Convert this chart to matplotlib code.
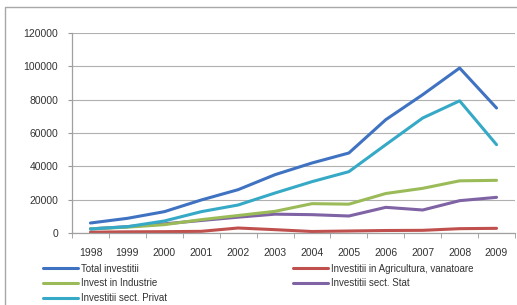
import matplotlib
matplotlib.use("Agg")
import matplotlib.pyplot as plt
from matplotlib.patches import Rectangle

years = ["1998", "1999", "2000", "2001", "2002", "2003",
         "2004", "2005", "2006", "2007", "2008", "2009"]
total = [6000, 8800, 12800, 19800, 26000, 35000, 42000, 48000, 68000, 83000, 99000, 75000]
agricultura = [500, 700, 800, 1000, 3000, 2000, 900, 1200, 1500, 1600, 2600, 2800]
industrie = [2500, 3500, 5000, 8000, 10500, 13000, 17600, 17300, 23700, 26800, 31300, 31600]
stat = [2500, 3800, 5500, 7500, 9500, 11300, 11000, 10200, 15400, 13800, 19400, 21400]
privat = [2400, 3800, 7200, 12800, 16800, 24000, 30800, 36800, 53000, 69000, 79300, 53000]

series = [
    ("Total investitii", total, "#3f73c2"),
    ("Invest in Industrie", industrie, "#9bbb59"),
    ("Investitii sect. Privat", privat, "#36a9c7"),
    ("Investitii in Agricultura, vanatoare", agricultura, "#c0504d"),
    ("Investitii sect. Stat", stat, "#7f63a5"),
]

plt.rcParams["font.family"] = ["Liberation Sans Narrow", "Liberation Sans", "DejaVu Sans"]

fig = plt.figure(figsize=(5.17, 3.05), dpi=100)
ax = fig.add_axes([72 / 517, 1 - 233 / 305, 443 / 517, 200 / 305])

x = list(range(len(years)))
# draw in the reference's stacking order (total on top)
for name, vals, col in [series[3], series[4], series[1], series[2], series[0]]:
    ax.plot(x, vals, color=col, lw=2.2, label=name, solid_capstyle="round")

ax.set_xlim(-0.5, len(years) - 0.5)
ax.set_ylim(0, 120000)
ax.set_yticks(range(0, 120001, 20000))
ax.set_yticklabels([str(v) for v in range(0, 120001, 20000)])
ax.set_xticks(x)
ax.set_xticklabels(years)
ax.set_xticks([i - 0.5 for i in range(len(years) + 1)], minor=True)
ax.tick_params(axis="x", which="major", length=0, pad=11, labelsize=7.5, labelcolor="#333333")
ax.tick_params(axis="x", which="minor", length=3.5, color="#999999")
ax.tick_params(axis="y", length=3, pad=7, color="#999999", labelsize=7.5, labelcolor="#333333")

ax.yaxis.grid(True, color="#b0b0b0", lw=0.8)
ax.set_axisbelow(True)
for s in ["top", "right"]:
    ax.spines[s].set_visible(False)
for s in ["left", "bottom"]:
    ax.spines[s].set_color("#a0a0a0")
    ax.spines[s].set_linewidth(0.9)

handles, labels = ax.get_legend_handles_labels()
order = [labels.index(s[0]) for s in series]
fig.legend([handles[i] for i in order], [labels[i] for i in order],
           ncol=2, loc="upper left", bbox_to_anchor=(38 / 517, 1 - 259 / 305),
           frameon=False, fontsize=7, handlelength=3.6, handletextpad=0.3,
           labelspacing=0.47, columnspacing=13, borderpad=0, labelcolor="#333333")

fig.patches.append(Rectangle((5 / 517, -0.01), 1, 1 - 7 / 305 + 0.01,
                             transform=fig.transFigure, fill=False,
                             edgecolor="#a8a8a8", lw=1))

fig.savefig("out.png", dpi=100)
